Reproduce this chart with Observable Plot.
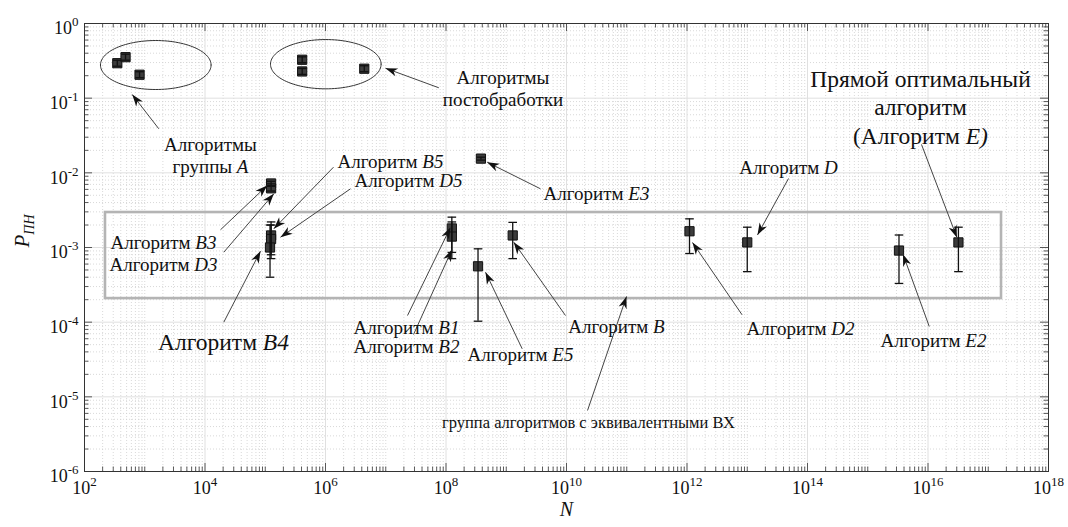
<!DOCTYPE html>
<html><head><meta charset="utf-8">
<script src="https://cdn.jsdelivr.net/npm/d3@7"></script>
<script src="https://cdn.jsdelivr.net/npm/@observablehq/plot@0.6"></script>
<style>body{margin:0;background:#fff}</style>
</head><body><div id="chart"></div>
<script>
// ---- data points (N, P with error bounds) ----
const names = ["A1","A2","A3","P1","P2","P3","B3","D3","B5","D5","B4","B1","B2","E5","E3","B","D2","D","E2","E"];
const Nvals = [350, 480, 820, 4.1e5, 4.1e5, 4.4e6, 1.25e5, 1.25e5, 1.25e5, 1.25e5, 1.2e5, 1.25e8, 1.25e8, 3.4e8, 3.8e8, 1.28e9, 1.1e12, 1.0e13, 3.3e15, 3.2e16];
const Pvals = [0.294, 0.354, 0.206, 0.327, 0.228, 0.248, 7.2e-3, 6.2e-3, 1.45e-3, 1.3e-3, 1.0e-3, 1.8e-3, 1.4e-3, 5.6e-4, 1.55e-2, 1.45e-3, 1.65e-3, 1.17e-3, 9.1e-4, 1.17e-3];
const Plo = [0.268, 0.323, 0.188, 0.298, 0.208, 0.226, 6.6e-3, 5.7e-3, 7.1e-4, 8.0e-4, 4.0e-4, 8.6e-4, 7.1e-4, 1.03e-4, 1.48e-2, 7.1e-4, 8.3e-4, 4.75e-4, 3.3e-4, 4.75e-4];
const Phi = [0.322, 0.388, 0.226, 0.358, 0.250, 0.272, 7.7e-3, 6.8e-3, 2.2e-3, 2.0e-3, 2.0e-3, 2.55e-3, 2.2e-3, 9.6e-4, 1.62e-2, 2.17e-3, 2.42e-3, 1.87e-3, 1.47e-3, 1.87e-3];

// ---- axis ticks (exponents) ----
const xTickExp = [2, 4, 6, 8, 10, 12, 14, 16, 18];
const yTickExp = [0, -1, -2, -3, -4, -5, -6];

// ---- annotation shapes (in log10 data units) ----
const boxN = [223, 1.66e17];
const boxP = [2.07e-4, 2.94e-3];
const ellCX = [3.183, 6.005], ellCY = [-0.556, -0.545], ellRX = [0.918, 0.918], ellRY = [0.328, 0.33];

const labelText = ["Алгоритмы\nгруппы *A*", "Алгоритмы\nпостобработки", "Алгоритм *B5*", "Алгоритм *D5*", "Алгоритм *B3*", "Алгоритм *D3*", "Алгоритм *E3*", "Алгоритм *B1*", "Алгоритм *B2*", "Алгоритм *E5*", "Алгоритм *B*", "Алгоритм *D2*", "Алгоритм *D*", "Алгоритм *E2*"];
const labelLX = [4.091, 8.946, 7.079, 7.378, 3.311, 3.311, 10.498, 7.344, 7.344, 9.237, 10.830, 13.884, 13.685, 16.091];
const labelLY = [-1.760, -0.866, -1.835, -2.093, -2.929, -3.218, -2.273, -4.058, -4.312, -4.419, -4.044, -4.082, -1.915, -4.240];
const bigText = ["Алгоритм *B4*", "Прямой оптимальный\nалгоритм\n(Алгоритм *E)*"];
const bigLX = [4.307, 15.875], bigLY = [-4.245, -1.106];
const groupText = ["группа алгоритмов с эквивалентными ВХ"];
const groupLX = [10.365], groupLY = [-5.344];

const arrowTailLX = [3.233, 7.881, 6.133, 6.415, 4.257, 4.312, 4.312, 9.568, 7.361, 7.461, 9.265, 9.983, 10.349, 12.914, 13.685, 16.021, 15.892];
const arrowTailLY = [-1.410, -0.861, -1.924, -2.214, -2.763, -3.063, -4.000, -2.214, -3.911, -4.165, -4.357, -3.911, -5.183, -3.901, -2.076, -4.058, -1.620];
const arrowHeadLX = [2.792, 6.996, 5.142, 5.253, 5.032, 5.142, 4.921, 8.684, 8.075, 8.100, 8.656, 9.125, 10.996, 12.091, 13.170, 15.585, 16.480];
const arrowHeadLY = [-0.951, -0.599, -2.749, -2.862, -2.170, -2.281, -3.049, -1.858, -2.728, -3.027, -3.331, -2.929, -3.656, -2.933, -2.832, -3.090, -2.865];

// ---- build tables ----
const p10 = v => Math.pow(10, v);
const rows = names.map((n, i) => ({name: n, N: Nvals[i], P: Pvals[i], lo: Plo[i], hi: Phi[i]}));
const labels = labelText.map((t, i) => ({t, x: p10(labelLX[i]), y: p10(labelLY[i])}));
const bigs = bigText.map((t, i) => ({t, x: p10(bigLX[i]), y: p10(bigLY[i])}));
const groups = groupText.map((t, i) => ({t, x: p10(groupLX[i]), y: p10(groupLY[i])}));
const arrows = arrowTailLX.map((_, i) => ({x1: p10(arrowTailLX[i]), y1: p10(arrowTailLY[i]), x2: p10(arrowHeadLX[i]), y2: p10(arrowHeadLY[i])}));
const ellPts = [];
ellCX.forEach((cx, k) => {
  for (let a = 0; a <= 360; a += 3) {
    const r = a * Math.PI / 180;
    ellPts.push({id: k, x: p10(cx + ellRX[k] * Math.cos(r)), y: p10(ellCY[k] + ellRY[k] * Math.sin(r))});
  }
});

const xMajor = xTickExp.map(p10);
const yMajor = yTickExp.map(p10);
const xMinor = [], yMinor = [];
for (let k = 2; k < 18; k++) for (let m = 1; m < 10; m++) { if (m === 1 && k % 2 === 0) continue; xMinor.push(m * p10(k)); }
for (let k = -6; k < 0; k++) for (let m = 2; m < 10; m++) yMinor.push(m * p10(k));

const W = 1068, H = 527, mL = 84, mR = 20, mT = 23, mB = 56;
const fw = W - mL - mR, fh = H - mT - mB;
const serif = "'Liberation Serif', serif";
const capSymbol = {draw(ctx, size) { const r = Math.sqrt(size / Math.PI); ctx.moveTo(-r, 0); ctx.lineTo(r, 0); }};
const tk = "#333";

const chart = Plot.plot({
  width: W, height: H,
  marginLeft: mL, marginRight: mR, marginTop: mT, marginBottom: mB,
  style: {background: "#fff", fontFamily: serif},
  x: {type: "log", domain: [1e2, 1e18], axis: null},
  y: {type: "log", domain: [1e-6, 1], axis: null},
  marks: [
    // grid
    Plot.ruleX(xMinor, {x: d => d, stroke: "#cfcfcf", strokeWidth: 0.8, strokeDasharray: "1,2"}),
    Plot.ruleY(yMinor, {y: d => d, stroke: "#cfcfcf", strokeWidth: 0.8, strokeDasharray: "1,2"}),
    Plot.ruleX(xMajor, {x: d => d, stroke: "#e0e0e0", strokeWidth: 1}),
    Plot.ruleY(yMajor, {y: d => d, stroke: "#e0e0e0", strokeWidth: 1}),
    // inward ticks on all sides
    Plot.tickX(xMajor, {x: d => d, insetTop: fh - 8, stroke: tk, strokeWidth: 0.8}),
    Plot.tickX(xMajor, {x: d => d, insetBottom: fh - 8, stroke: tk, strokeWidth: 0.8}),
    Plot.tickX(xMinor, {x: d => d, insetTop: fh - 4.5, stroke: tk, strokeWidth: 0.8}),
    Plot.tickX(xMinor, {x: d => d, insetBottom: fh - 4.5, stroke: tk, strokeWidth: 0.8}),
    Plot.tickY(yMajor, {y: d => d, insetRight: fw - 8, stroke: tk, strokeWidth: 0.8}),
    Plot.tickY(yMajor, {y: d => d, insetLeft: fw - 8, stroke: tk, strokeWidth: 0.8}),
    Plot.tickY(yMinor, {y: d => d, insetRight: fw - 4.5, stroke: tk, strokeWidth: 0.8}),
    Plot.tickY(yMinor, {y: d => d, insetLeft: fw - 4.5, stroke: tk, strokeWidth: 0.8}),
    Plot.frame({stroke: "#333", strokeWidth: 1}),
    // annotation shapes
    Plot.rect([{x1: boxN[0], x2: boxN[1], y1: boxP[0], y2: boxP[1]}], {x1: "x1", x2: "x2", y1: "y1", y2: "y2", fill: "none", stroke: "#b4b4b4", strokeWidth: 2.6}),
    Plot.line(ellPts, {x: "x", y: "y", z: "id", stroke: "#333", strokeWidth: 1}),
    // data
    Plot.dot(rows, {x: "N", y: "P", symbol: "square", r: 5.2, fill: "#3c3c3c", stroke: "#111", strokeWidth: 1}),
    Plot.ruleX(rows, {x: "N", y1: "lo", y2: "hi", stroke: "#111", strokeWidth: 1.3}),
    Plot.dot(rows, {x: "N", y: "lo", symbol: capSymbol, r: 4.3, stroke: "#111", strokeWidth: 1.3, fill: "none"}),
    Plot.dot(rows, {x: "N", y: "hi", symbol: capSymbol, r: 4.3, stroke: "#111", strokeWidth: 1.3, fill: "none"}),
    // arrows
    Plot.link(arrows, {x1: "x1", y1: "y1", x2: "x2", y2: "y2", stroke: "#444", strokeWidth: 1, ariaDescription: "arrows"}),
    // labels
    Plot.text(labels, {x: "x", y: "y", text: "t", fontSize: 19, lineHeight: 1.17, fill: "#111", fontFamily: serif, ariaDescription: "labels"}),
    Plot.text(bigs, {x: "x", y: "y", text: "t", fontSize: 23.5, lineHeight: 1.22, fill: "#111", fontFamily: serif, ariaDescription: "labels"}),
    Plot.text(groups, {x: "x", y: "y", text: "t", fontSize: 16.5, fill: "#111", fontFamily: serif}),
    // tick labels
    Plot.text(xTickExp, {x: d => p10(d), frameAnchor: "bottom", dy: 22, text: d => "10^" + d, fontSize: 18, fill: "#111", fontFamily: serif, ariaDescription: "ticklabels"}),
    Plot.text(yTickExp, {y: d => p10(d), frameAnchor: "left", dx: -6, dy: 5, textAnchor: "end", text: d => "10^" + d, fontSize: 18, fill: "#111", fontFamily: serif, ariaDescription: "ticklabels"}),
    // axis titles
    Plot.text(["N"], {frameAnchor: "bottom", dy: 44, text: d => d, fontSize: 20, fontStyle: "italic", fill: "#111", fontFamily: serif}),
    Plot.text(["P_ПН"], {frameAnchor: "left", dx: -62, rotate: -90, text: d => d, fontSize: 21, fontStyle: "italic", fill: "#111", fontFamily: serif, ariaDescription: "ylabel"})
  ]
});
document.getElementById("chart").appendChild(chart);

const svg = chart.tagName.toLowerCase() === "svg" ? chart : chart.querySelector("svg");
const S = d3.select(svg);
const grp = name => S.selectAll(`g[aria-description="${name}"]`);
// superscripts
grp("ticklabels").selectAll("text").each(function () {
  const [b, e] = this.textContent.split("^");
  const el = d3.select(this); el.text(null);
  el.append("tspan").text(b);
  el.append("tspan").attr("dy", -8).attr("font-size", 13).text(e);
});
// subscript in y label
grp("ylabel").selectAll("text").each(function () {
  const [b, e] = this.textContent.split("_");
  const el = d3.select(this); el.text(null);
  el.append("tspan").text(b);
  el.append("tspan").attr("dy", 5).attr("font-size", 14).text(e);
});
// italics
grp("labels").selectAll("text").each(function () {
  const ts = this.querySelectorAll("tspan");
  const leaves = ts.length ? Array.from(ts) : [this];
  leaves.forEach(n => {
    const s = n.textContent;
    if (s.includes("*")) n.innerHTML = s.replace(/\*([^*]+)\*/g, '<tspan font-style="italic">$1</tspan>');
  });
});
// filled arrow heads
grp("arrows").selectAll("path").each(function () {
  const nums = this.getAttribute("d").match(/-?\d*\.?\d+(?:e[-+]?\d+)?/g).map(Number);
  const x1 = nums[0], y1 = nums[1], x2 = nums[nums.length - 2], y2 = nums[nums.length - 1];
  const dx = x2 - x1, dy = y2 - y1, L = Math.hypot(dx, dy), ux = dx / L, uy = dy / L, nx = -uy, ny = ux;
  const hl = 12, hw = 4.2, notch = 8.5;
  const pts = [[x2, y2], [x2 - hl * ux + hw * nx, y2 - hl * uy + hw * ny], [x2 - notch * ux, y2 - notch * uy], [x2 - hl * ux - hw * nx, y2 - hl * uy - hw * ny]];
  d3.select(this.parentNode).append("path").attr("d", "M" + pts.map(p => p.join(",")).join("L") + "Z").attr("fill", "#111").attr("stroke", "none");
});
</script>
</body></html>
